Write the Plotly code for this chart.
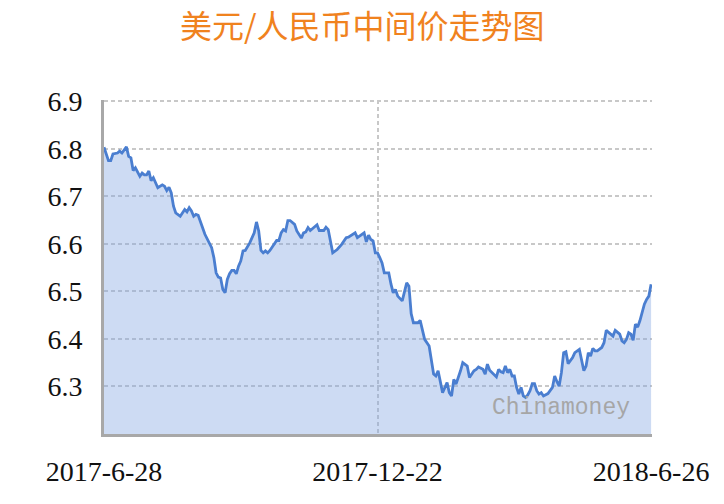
import plotly.graph_objects as go

# trading-day index (0 = 2017-6-28, 244 = 2018-6-26)
day_index = [0, 2, 3, 4, 6, 7, 8, 9, 10, 11, 12, 13, 14, 16, 17, 18, 19, 20, 21, 22,
             24, 26, 27, 28, 29, 30, 31, 32, 34, 36, 37, 38, 39, 40, 41, 42,
             44, 45, 48, 49, 50, 51, 52, 53, 54, 55, 56, 57, 58, 59, 60, 61, 62, 63,
             65, 67, 68, 69, 70, 71, 72, 73, 74, 76, 77, 78, 79, 80, 81, 82, 83,
             85, 86, 88, 89, 90, 91, 92, 95, 96, 98, 99, 100, 102, 104, 106, 107,
             108, 109, 111, 112, 113, 115, 116, 117, 118, 119, 120, 121, 122,
             123, 124, 125, 127, 128, 129, 130, 131, 133, 134, 135, 136, 137, 138,
             140, 141, 142, 143, 145, 146, 147, 148, 149, 151, 152, 153, 154, 155,
             156, 157, 159, 160, 162, 163, 165, 166, 167, 169, 170, 171, 172, 174,
             175, 176, 177, 178, 179, 180, 181, 182, 183, 184, 185, 186, 187, 188,
             189, 190, 191, 192, 193, 194, 195, 196, 197, 198, 200, 201, 202, 203,
             204, 205, 206, 207, 209, 210, 212, 213, 214, 215, 216, 217, 218, 219,
             220, 222, 223, 224, 226, 227, 228, 230, 231, 232, 233, 234, 235, 236,
             237, 238, 239, 240, 241, 242, 243, 244]

usd_cny = [6.803, 6.775, 6.775, 6.789, 6.791, 6.795, 6.791, 6.799, 6.804, 6.784,
           6.781, 6.754, 6.760, 6.742, 6.749, 6.745, 6.745, 6.753, 6.733, 6.739,
           6.718, 6.724, 6.721, 6.712, 6.719, 6.707, 6.679, 6.665, 6.658, 6.672,
           6.667, 6.676, 6.669, 6.658, 6.662, 6.660,
           6.630, 6.620, 6.592, 6.571, 6.539, 6.530, 6.528, 6.504, 6.497, 6.525,
           6.537, 6.544, 6.544, 6.537, 6.553, 6.564, 6.585, 6.586,
           6.602, 6.623, 6.646, 6.627, 6.586, 6.581, 6.585, 6.581, 6.586, 6.599,
           6.607, 6.607, 6.623, 6.630, 6.627, 6.649, 6.649,
           6.641, 6.627, 6.612, 6.623, 6.625, 6.634, 6.628, 6.640, 6.628, 6.628,
           6.635, 6.630, 6.581, 6.588, 6.599, 6.607,
           6.613, 6.614, 6.620, 6.623, 6.613, 6.620, 6.623, 6.604, 6.618, 6.609,
           6.606, 6.581, 6.581,
           6.571, 6.560, 6.539, 6.539, 6.515, 6.497, 6.504, 6.490, 6.480, 6.501,
           6.518, 6.511, 6.453, 6.434,
           6.434, 6.439, 6.417, 6.399, 6.385, 6.357, 6.326, 6.322, 6.333, 6.287,
           6.298, 6.308, 6.287, 6.280,
           6.315, 6.305, 6.333, 6.350, 6.343, 6.319, 6.333, 6.336, 6.341, 6.336,
           6.326, 6.347, 6.334, 6.326,
           6.320, 6.336, 6.331, 6.329, 6.343, 6.329, 6.336, 6.322, 6.322, 6.298,
           6.284, 6.298, 6.280, 6.277,
           6.282, 6.291, 6.306, 6.306, 6.291, 6.284, 6.287, 6.280, 6.282, 6.285,
           6.298, 6.322, 6.310, 6.301,
           6.329, 6.371, 6.373, 6.348, 6.361, 6.371, 6.378, 6.357, 6.333, 6.343,
           6.371, 6.364, 6.380, 6.375,
           6.375, 6.382, 6.392, 6.418, 6.410, 6.406, 6.418, 6.410, 6.396, 6.392,
           6.399, 6.413, 6.410, 6.397,
           6.431, 6.425, 6.438, 6.459, 6.473, 6.483, 6.490, 6.515]

x_tick_index = [0, 122, 244]
x_tick_labels = ["2017-6-28", "2017-12-22", "2018-6-26"]
y_ticks = [6.3, 6.4, 6.5, 6.6, 6.7, 6.8, 6.9]
y_tick_labels = ["6.3", "6.4", "6.5", "6.6", "6.7", "6.8", "6.9"]
chart_title = "美元/人民币中间价走势图"

fig = go.Figure()
fig.add_trace(go.Scatter(
    x=day_index, y=usd_cny, mode="lines",
    line=dict(color="#4A7ED0", width=2.8),
    fill="tozeroy", fillcolor="rgba(130,165,225,0.40)",
    hoverinfo="skip", showlegend=False,
))

grid_color = "#C8C8C8"
fig.update_xaxes(
    range=[0, 244.4], tickvals=x_tick_index, ticktext=x_tick_labels,
    showgrid=True, gridcolor=grid_color, gridwidth=2, griddash="4px,3px",
    showline=True, linecolor="#A8A8A8", linewidth=3,
    ticks="", ticklabelstandoff=10,
    tickfont=dict(family="Liberation Serif", size=28, color="#111111"),
    zeroline=False, fixedrange=True,
)
fig.update_yaxes(
    range=[6.2, 6.9025], tickvals=y_ticks, ticktext=y_tick_labels,
    showgrid=True, gridcolor=grid_color, gridwidth=2, griddash="4px,3px",
    showline=True, linecolor="#A8A8A8", linewidth=3,
    ticks="", ticklabelstandoff=13,
    tickfont=dict(family="Liberation Serif", size=28, color="#111111"),
    zeroline=False, fixedrange=True,
)

fig.add_annotation(
    text="Chinamoney", xref="x", yref="y", x=235.5, y=6.255,
    xanchor="right", yanchor="middle", showarrow=False,
    font=dict(family="Liberation Mono", size=23, color="#A6A6A6"),
)

fig.add_annotation(
    text=chart_title, xref="paper", yref="paper",
    x=(354 - 96) / 548, y=1 + (92 - 16) / 334,
    xanchor="center", yanchor="middle", showarrow=False,
    font=dict(family="Noto Sans CJK SC", size=32, color="#F0821E"),
)

fig.update_layout(
    width=716, height=496,
    margin=dict(l=96, r=72, t=92, b=70),
    paper_bgcolor="white", plot_bgcolor="white",
)

fig.write_html("out.html")
